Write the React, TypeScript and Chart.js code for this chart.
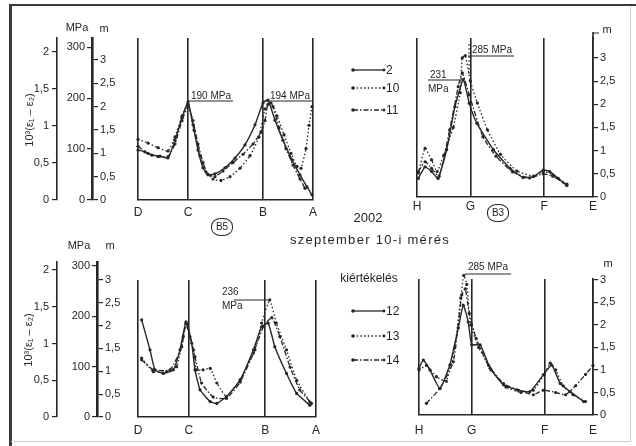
import React, { useEffect, useRef } from "react";
import { Chart, registerables } from "chart.js";

Chart.register(...registerables);

const FONT = '"Liberation Sans", "DejaVu Sans", Arial, sans-serif';
const INK = "#262626";

// ---- stations (position along the section, m) and tick values ----
const stationsDCBA = [0, 10, 25, 35];
const labelsDCBA = ["D", "C", "B", "A"];
const stationsHGFE = [0, 10.6, 25.3, 35];
const labelsHGFE = ["H", "G", "F", "E"];

const mTicks = [0, 0.5, 1, 1.5, 2, 2.5, 3];
const strainTicks = [0, 0.5, 1, 1.5, 2];
const mpaTicks = [0, 100, 200, 300];

const legendTop = ["2", "10", "11"];
const legendBottom = ["12", "13", "14"];

type P = [number, number][];

// ---- B5, top row (series 2, 10, 11) ----
const b5TopS2: P = [[0, 1.07], [1.4, 1.03], [2.8, 0.96], [4.4, 0.94], [6, 0.9], [7.4, 1.28], [8.8, 1.76], [10, 2.1], [11, 1.61], [12, 1.07], [13, 0.69], [14, 0.54], [15.4, 0.56], [17.4, 0.69], [19.4, 0.9], [21.4, 1.18], [23.4, 1.61], [25, 2.08], [26, 2.14], [27.4, 1.71], [29, 1.28], [30.8, 0.86], [32.4, 0.54], [33.8, 0.28], [34.8, 0.11]];
const b5TopS10: P = [[0, 1.3], [2, 1.22], [4, 1.12], [6, 1.05], [7.4, 1.35], [8.8, 1.8], [10, 2.05], [11.2, 1.5], [12.4, 0.95], [13.6, 0.6], [15, 0.45], [16.6, 0.42], [18.4, 0.5], [20.4, 0.68], [22.4, 0.95], [24.2, 1.35], [25.4, 1.95], [26.6, 2.08], [27.8, 1.8], [29.2, 1.4], [30.6, 1.0], [31.8, 0.72], [32.6, 0.68], [33.6, 1.1], [34.2, 1.6], [34.8, 2.0]];
const b5TopS11: P = [[0, 1.15], [2, 1.0], [4, 0.93], [6, 0.93], [7.4, 1.2], [8.8, 1.7], [10, 2.0], [11, 1.7], [12, 1.2], [13, 0.8], [14, 0.55], [15.4, 0.5], [17, 0.62], [19, 0.8], [21, 0.98], [23, 1.2], [24.6, 1.45], [25.4, 1.7], [26, 2.05], [27, 2.0], [28.2, 1.55], [29.6, 1.1], [31, 0.75], [32.4, 0.45], [33.4, 0.25]];

// ---- B3, top row ----
const b3TopS2: P = [[0.26, 0.4], [1.6, 0.65], [2.9, 0.55], [4.2, 0.4], [5.9, 1.02], [7.55, 1.95], [9.2, 2.53], [10.4, 2.02], [11.9, 1.59], [15.2, 1.02], [18.5, 0.62], [21.1, 0.42], [23.1, 0.44], [25.1, 0.58], [26.4, 0.55], [28.1, 0.4], [29.8, 0.26]];
const b3TopS10: P = [[0.26, 0.52], [1.6, 1.05], [2.9, 0.8], [4.0, 0.55], [5.3, 0.9], [7.2, 1.5], [8.6, 2.25], [9.0, 3.0], [9.6, 3.05], [10.6, 2.5], [12.0, 2.03], [14.0, 1.45], [16.6, 0.92], [19.9, 0.56], [23.2, 0.45], [25.1, 0.55], [27.0, 0.48], [29.8, 0.28]];
const b3TopS11: P = [[0.26, 0.55], [1.6, 0.76], [2.9, 0.62], [4.4, 0.45], [6.5, 1.45], [8.2, 2.38], [9.0, 2.68], [10.4, 2.2], [13.1, 1.3], [15.7, 0.88], [19.0, 0.54], [22.4, 0.41], [25.1, 0.5], [27.0, 0.45], [29.8, 0.25]];

// ---- B5, bottom row (series 12, 13, 14) ----
const b5BotS12: P = [[0.72, 2.14], [2.36, 1.48], [3.34, 1.04], [4.98, 0.96], [6.95, 1.04], [8.26, 1.48], [9.44, 2.1], [10.56, 1.63], [11.2, 1.04], [12.2, 0.6], [14.2, 0.34], [15.5, 0.3], [17.4, 0.45], [20.1, 0.82], [22.7, 1.48], [24.3, 1.99], [25.6, 2.07], [26.9, 1.55], [29.2, 0.96], [31.2, 0.52], [33.8, 0.26]];
const b5BotS13: P = [[0.72, 1.3], [3.0, 1.0], [5.6, 1.0], [7.6, 1.11], [8.9, 1.77], [9.6, 2.06], [10.9, 1.48], [11.5, 1.04], [12.8, 1.04], [14.2, 1.07], [15.5, 0.75], [17.4, 0.45], [20.1, 0.82], [23.0, 1.48], [24.3, 2.07], [25.9, 2.58], [27.2, 2.07], [29.2, 1.48], [31.2, 0.81], [33.8, 0.33]];
const b5BotS14: P = [[0.72, 1.26], [3.0, 1.04], [6.3, 1.04], [8.6, 1.55], [9.4, 2.06], [10.2, 1.77], [11.2, 1.33], [12.5, 0.75], [14.8, 0.44], [17.4, 0.41], [20.1, 0.77], [22.7, 1.41], [24.7, 2.0], [26.3, 2.19], [27.9, 1.77], [29.9, 1.1], [31.8, 0.6], [34.1, 0.3]];

// ---- B3, bottom row ----
const b3BotS12: P = [[0, 1.04], [0.87, 1.22], [2.2, 1.0], [4.2, 0.59], [6.2, 1.11], [7.9, 1.93], [8.9, 2.44], [9.9, 2.07], [10.6, 1.56], [12.3, 1.56], [14.3, 1.04], [17.0, 0.67], [19.7, 0.56], [22.3, 0.52], [25.0, 0.89], [26.7, 1.11], [28.4, 0.7], [30.4, 0.52], [33.1, 0.3]];
const b3BotS13: P = [[0, 1.0], [1.5, 1.1], [3.5, 0.85], [5.5, 0.75], [7.2, 1.5], [8.4, 2.6], [9.0, 3.1], [9.6, 2.9], [10.4, 2.0], [12.0, 1.5], [14.5, 1.0], [17.5, 0.62], [20.5, 0.5], [23.0, 0.55], [25.2, 0.9], [26.4, 1.15], [27.5, 1.0], [29.0, 0.65], [31.0, 0.45], [33.5, 0.3]];
const b3BotS14: P = [[1.5, 0.26], [4.2, 0.59], [6.9, 1.18], [8.6, 2.67], [9.3, 2.8], [10.1, 2.26], [11.5, 1.7], [14, 1.1], [17, 0.7], [20, 0.55], [23, 0.45], [25, 0.55], [27.5, 0.5], [29.5, 0.45], [31.5, 0.65], [33.5, 0.9], [35, 1.1]];

const seriesDash: number[][] = [[], [1.5, 2.2], [5, 2, 1.5, 2]];
const fmt = (v: number) => String(v).replace(".", ",");
const tickFont = { family: FONT, size: 11 };

function panelConfig(o: any): any {
  return {
    type: "line",
    data: {
      datasets: o.series.map((s: P, i: number) => ({
        data: s.map(([x, y]) => ({ x, y })),
        borderColor: INK,
        backgroundColor: INK,
        pointBackgroundColor: INK,
        borderWidth: i === 0 ? 1.4 : 1.3,
        borderDash: seriesDash[i],
        pointRadius: 1.6,
        pointBorderWidth: 0,
        tension: 0.15,
        clip: false,
        fill: false,
      })),
    },
    options: {
      responsive: false,
      animation: false,
      events: [],
      layout: { padding: o.pad },
      plugins: { legend: { display: false }, tooltip: { enabled: false } },
      scales: {
        x: {
          type: "linear",
          min: 0,
          max: 35,
          afterBuildTicks: (s: any) => {
            s.ticks = o.stations.map((v: number) => ({ value: v }));
          },
          afterFit: (s: any) => {
            s.height = o.xAxisH;
            s.paddingLeft = 0;
            s.paddingRight = 0;
          },
          ticks: {
            callback: (_v: any, i: number) => o.labels[i],
            font: { family: FONT, size: 12 },
            color: INK,
            padding: o.labelPad,
            autoSkip: false,
            maxRotation: 0,
          },
          grid: { color: INK, lineWidth: 1.6, drawTicks: false },
          border: { display: true, color: INK, width: 1.6 },
        },
        y: {
          type: "linear",
          display: o.rightW > 0,
          position: "right",
          min: 0,
          max: o.yMax,
          afterBuildTicks: (s: any) => {
            s.ticks = mTicks.map((v) => ({ value: v }));
          },
          afterFit: (s: any) => {
            s.width = o.rightW;
            s.paddingTop = 0;
            s.paddingBottom = 0;
          },
          ticks: { callback: (v: number) => fmt(v), font: tickFont, color: INK, padding: 2 },
          grid: { drawOnChartArea: false, color: INK, tickLength: 5, lineWidth: 1.2 },
          border: { display: true, color: INK, width: 1.6 },
        },
      },
    },
  };
}

function axisScale(ticks: number[], max: number, width: number, position: string, weight: number, padTick: number) {
  return {
    type: "linear",
    position,
    weight,
    min: 0,
    max,
    afterBuildTicks: (s: any) => {
      s.ticks = ticks.map((v) => ({ value: v }));
    },
    afterFit: (s: any) => {
      s.width = width;
      s.paddingTop = 0;
      s.paddingBottom = 0;
    },
    ticks: { callback: (v: number) => fmt(v), font: tickFont, color: INK, padding: padTick },
    grid: { drawOnChartArea: false, color: INK, tickLength: 5, lineWidth: 1.2 },
    border: { display: true, color: INK, width: 1.6 },
  };
}

function axesConfig(o: any): any {
  return {
    type: "line",
    data: { datasets: [] },
    options: {
      responsive: false,
      animation: false,
      events: [],
      layout: { padding: o.pad },
      plugins: { legend: { display: false }, tooltip: { enabled: false } },
      scales: {
        x: { type: "linear", display: false, min: 0, max: 1 },
        yS: axisScale(strainTicks, o.sMax, o.wS, "left", 2, 3),
        yP: axisScale(mpaTicks, o.pMax, o.wP, "left", 1, 2),
        yM: axisScale(mTicks, o.mMax, o.wM, "right", 1, 2),
      },
    },
  };
}

function ChartBox({ left, top, width, height, config }: any) {
  const ref = useRef<HTMLCanvasElement>(null);
  useEffect(() => {
    const chart = new Chart(ref.current as HTMLCanvasElement, config);
    return () => chart.destroy();
  }, []);
  return (
    <canvas
      ref={ref}
      width={width}
      height={height}
      style={{ position: "absolute", left, top, width, height }}
    />
  );
}

const Txt = ({ x, y, s = 11, center = true, children, style }: any) => (
  <div
    style={{
      position: "absolute",
      left: x,
      top: y,
      fontSize: s,
      lineHeight: 1,
      whiteSpace: "nowrap",
      transform: center ? "translate(-50%, -50%)" : "translate(0, -50%)",
      ...style,
    }}
  >
    {children}
  </div>
);

const Badge = ({ x, y, label }: any) => (
  <div
    style={{
      position: "absolute",
      left: x - 11,
      top: y - 9,
      width: 20,
      height: 16,
      border: `1.3px solid ${INK}`,
      borderRadius: "45%",
      fontSize: 10,
      lineHeight: "16px",
      textAlign: "center",
    }}
  >
    {label}
  </div>
);

function Legend({ labels, ys }: { labels: string[]; ys: number[] }) {
  return (
    <>
      <svg width={636} height={446} style={{ position: "absolute", left: 0, top: 0 }}>
        {labels.map((l, i) => (
          <g key={l}>
            <line x1={353} x2={384} y1={ys[i]} y2={ys[i]} stroke={INK} strokeWidth={1.3} strokeDasharray={seriesDash[i].join(" ")} />
            <circle cx={353} cy={ys[i]} r={1.8} fill={INK} />
            <circle cx={384} cy={ys[i]} r={1.4} fill={INK} />
          </g>
        ))}
      </svg>
      {labels.map((l, i) => (
        <Txt key={l} x={386} y={ys[i]} s={12} center={false}>
          {l}
        </Txt>
      ))}
    </>
  );
}

const Line = ({ x1, y1, x2, y2, dash, w = 1 }: any) => (
  <svg width={636} height={446} style={{ position: "absolute", left: 0, top: 0 }}>
    <line x1={x1} y1={y1} x2={x2} y2={y2} stroke={INK} strokeWidth={w} strokeDasharray={dash} />
  </svg>
);

export default function App() {
  return (
    <div
      style={{
        position: "fixed",
        left: 0,
        top: 0,
        width: 636,
        height: 446,
        background: "#fff",
        overflow: "hidden",
        fontFamily: FONT,
        color: INK,
      }}
    >
      {/* frame */}
      <div style={{ position: "absolute", left: 9, top: 4, width: 627, height: 2, background: "#3a3a3a" }} />
      <div style={{ position: "absolute", left: 9, top: 4, width: 2.5, height: 442, background: "#3a3a3a" }} />
      <div style={{ position: "absolute", left: 630, top: 6, width: 1, height: 435, background: "#cfcfcf" }} />
      <div style={{ position: "absolute", left: 11, top: 441, width: 620, height: 1, background: "#cfcfcf" }} />

      {/* left axes */}
      <ChartBox
        left={10}
        top={28}
        width={130}
        height={190}
        config={axesConfig({ pad: { left: 0, right: 0, top: 10, bottom: 18 }, sMax: 2.19, pMax: 318, mMax: 3.47, wS: 47, wP: 35, wM: 47 })}
      />
      <ChartBox
        left={10}
        top={250}
        width={130}
        height={178}
        config={axesConfig({ pad: { left: 0, right: 0, top: 12, bottom: 11 }, sMax: 2.11, pMax: 308, mMax: 3.39, wS: 47, wP: 40, wM: 42 })}
      />

      {/* panels */}
      <ChartBox
        left={128}
        top={28}
        width={192}
        height={200}
        config={panelConfig({ series: [b5TopS2, b5TopS10, b5TopS11], stations: stationsDCBA, labels: labelsDCBA, yMax: 3.47, pad: { left: 10, right: 7, top: 10, bottom: 0 }, xAxisH: 28, labelPad: 5, rightW: 0 })}
      />
      <ChartBox
        left={405}
        top={28}
        width={231}
        height={190}
        config={panelConfig({ series: [b3TopS2, b3TopS10, b3TopS11], stations: stationsHGFE, labels: labelsHGFE, yMax: 3.43, pad: { left: 12, right: 0, top: 10, bottom: 0 }, xAxisH: 21, labelPad: 2, rightW: 43 })}
      />
      <ChartBox
        left={128}
        top={268}
        width={195}
        height={178}
        config={panelConfig({ series: [b5BotS12, b5BotS13, b5BotS14], stations: stationsDCBA, labels: labelsDCBA, yMax: 3.02, pad: { left: 10, right: 7, top: 12, bottom: 0 }, xAxisH: 29, labelPad: 6, rightW: 0 })}
      />
      <ChartBox
        left={405}
        top={262}
        width={231}
        height={180}
        config={panelConfig({ series: [b3BotS12, b3BotS13, b3BotS14], stations: stationsHGFE, labels: labelsHGFE, yMax: 3.02, pad: { left: 14, right: 0, top: 17, bottom: 0 }, xAxisH: 27, labelPad: 8, rightW: 43 })}
      />

      {/* axis extensions above the top-right scale */}
      <Line x1={593} y1={32} x2={593} y2={39} w={1.6} />
      <Line x1={593} y1={33} x2={599} y2={33} w={1} />

      {/* axis titles */}
      <Txt x={77} y={27}>MPa</Txt>
      <Txt x={104} y={28}>m</Txt>
      <Txt x={79} y={245}>MPa</Txt>
      <Txt x={110} y={245}>m</Txt>
      <Txt x={607} y={29}>m</Txt>
      <Txt x={608} y={263}>m</Txt>
      <Txt x={29} y={120} s={11} style={{ transform: "translate(-50%, -50%) rotate(-90deg)" }}>
        10³(ε₁ – ε₂)
      </Txt>
      <Txt x={28} y={340} s={11} style={{ transform: "translate(-50%, -50%) rotate(-90deg)" }}>
        10³(ε₁ – ε₂)
      </Txt>

      {/* centre titles */}
      <Txt x={368} y={217} s={13}>2002</Txt>
      <Txt x={370} y={239} s={13} style={{ letterSpacing: 1.3 }}>szeptember 10-i mérés</Txt>
      <Txt x={369} y={278} s={12}>kiértékelés</Txt>
      <Badge x={222} y={227} label="B5" />
      <Badge x={498} y={213} label="B3" />

      {/* legends */}
      <Legend labels={legendTop} ys={[70, 88, 110]} />
      <Legend labels={legendBottom} ys={[311, 336, 360]} />

      {/* peak annotations */}
      <Txt x={191} y={96} s={10} center={false}>190 MPa</Txt>
      <Line x1={188} y1={101} x2={233} y2={101} />
      <Txt x={270} y={96} s={10} center={false}>194 MPa</Txt>
      <Line x1={263} y1={101} x2={312} y2={101} />
      <Txt x={472} y={50} s={10} center={false}>285 MPa</Txt>
      <Line x1={468} y1={56} x2={514} y2={56} />
      <Line x1={469} y1={44} x2={469} y2={75} dash="2 2" />
      <Txt x={430} y={75} s={10} center={false}>231</Txt>
      <Txt x={428} y={89} s={10} center={false}>MPa</Txt>
      <Line x1={428} y1={80} x2={462} y2={80} />
      <Txt x={222} y={292} s={10} center={false}>236</Txt>
      <Txt x={222} y={306} s={10} center={false}>MPa</Txt>
      <Line x1={234} y1={300} x2={268} y2={300} />
      <Txt x={468} y={267} s={10} center={false}>285 MPa</Txt>
      <Line x1={465} y1={274} x2={511} y2={274} />
    </div>
  );
}
